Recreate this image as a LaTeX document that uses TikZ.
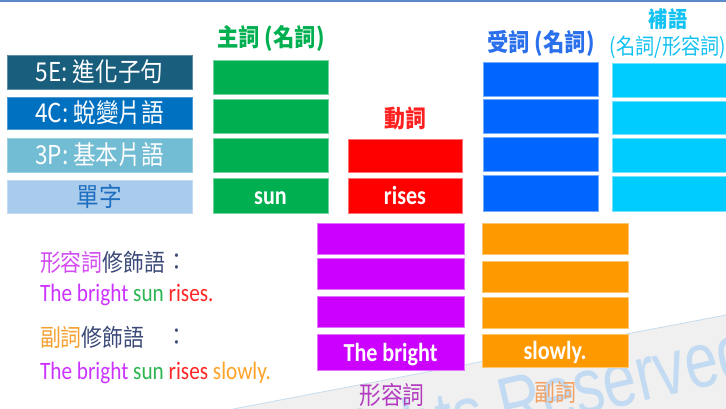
\documentclass[tikz,border=0pt]{standalone}
\usepackage{fontspec}
\usepackage{graphicx}
\newfontfamily\cjk[FakeStretch=0.87]{Noto Sans CJK TC}
\newfontfamily\lat[FakeStretch=0.85]{Carlito}
\newfontfamily\wmfont{Liberation Sans}
\newcommand\myCJK[1]{\cjk\fontsize{#1}{#1}\selectfont}
\newcommand\myLat[1]{\lat\fontsize{#1}{#1}\selectfont}
\definecolor{cFiveE}{HTML}{1A5E7E}
\definecolor{cFourC}{HTML}{0070C0}
\definecolor{cThreeP}{HTML}{72BCD4}
\definecolor{cWord}{HTML}{A9CBEC}
\definecolor{cWordTxt}{HTML}{1F6FC0}
\definecolor{cGreen}{HTML}{00B050}
\definecolor{cRed}{HTML}{FF0000}
\definecolor{cBlue}{HTML}{0066FF}
\definecolor{cCyan}{HTML}{00CCFF}
\definecolor{cPurple}{HTML}{CC00FF}
\definecolor{cOrange}{HTML}{FF9900}
\definecolor{tBlue}{HTML}{2A70EC}
\definecolor{tCyan}{HTML}{12C2F2}
\definecolor{tRed}{HTML}{FF2020}
\definecolor{tAdj}{HTML}{B43CC0}
\definecolor{tAdv}{HTML}{F4A060}
\definecolor{lAdj}{HTML}{D24CF2}
\definecolor{lDark}{HTML}{3B4A78}
\definecolor{lAdv}{HTML}{F5A030}
\definecolor{sAdj}{HTML}{CC33FF}
\definecolor{sGreen}{HTML}{2DB552}
\definecolor{sRed}{HTML}{FF2626}
\definecolor{sOrange}{HTML}{FFA326}
\definecolor{wmGrey}{HTML}{F0F0F0}
\definecolor{wmEdge}{HTML}{C5DDF0}
\definecolor{wmText}{HTML}{C2DBF2}
\definecolor{topLine}{HTML}{5B8AC8}
\tikzset{
  bx/.style={draw=#1!55!white, line width=0.5pt, fill=#1, inner sep=0,
    outer sep=0, text=white, font=\myLat{26}\bfseries,
    text height=24pt, text depth=6pt},
  lbl/.style={draw=#1!70!white, line width=0.5pt, fill=#1, inner sep=0,
    outer sep=0, minimum width=185pt, text=white, font=\myCJK{26}},
  txt/.style={inner sep=0, outer sep=0},
  wm/.style={inner sep=0, outer sep=0, rotate=13, text=wmText},
}
\begin{document}
\begin{tikzpicture}[x=1pt,y=-1pt]
\useasboundingbox (0,0) rectangle (726,409);
\clip (0,0) rectangle (726,409);
\fill[white] (0,0) rectangle (726,409);
% watermark band
\fill[wmGrey] (233,409) -- (726,315) -- (726,409) -- cycle;
\draw[wmEdge, line width=0.8pt] (233,409) -- (726,315);
\node[wm, anchor=base west] (wmB) at (505,433)
  {\wmfont\fontsize{60}{60}\selectfont\scalebox{1}[1.3]{Reserved}};
\node[wm, anchor=base east] (wmA) at (488.7,436.8)
  {\wmfont\fontsize{60}{60}\selectfont\scalebox{1}[1.3]{Rights}};
% top line
\draw[topLine, line width=2pt] (0,1) -- (726,1);
% left level labels
\node[lbl=cFiveE, minimum height=34pt] (l5) at (99.5,72) {5E: 進化子句};
\node[lbl=cFourC, minimum height=32pt] (l4) at (99.5,113) {4C: 蛻變片語};
\node[lbl=cThreeP, minimum height=34pt] (l3) at (99.5,155) {3P: 基本片語};
\node[lbl=cWord, minimum height=33pt, text=cWordTxt] (l1) at (99.5,196.5) {單字};
% subject column
\node[txt, text=cGreen, font=\myCJK{24.5}\bfseries] (tS) at (271,38) {主詞 (名詞)};
\node[bx=cGreen, minimum width=115pt, minimum height=34pt] (s4) at (270.5,77) {};
\node[bx=cGreen, minimum width=115pt, minimum height=34pt] (s3) at (270.5,116) {};
\node[bx=cGreen, minimum width=115pt, minimum height=34pt] (s2) at (270.5,155) {};
\node[bx=cGreen, minimum width=115pt, minimum height=35pt] (s1) at (270.5,195.5) {sun};
% verb column
\node[txt, text=tRed, font=\myCJK{24}\bfseries] (tV) at (405,118) {動詞};
\node[bx=cRed, minimum width=114pt, minimum height=33pt] (v2) at (405,155.5) {};
\node[bx=cRed, minimum width=114pt, minimum height=35pt] (v1) at (405,195.5) {rises};
% object column
\node[txt, text=tBlue, font=\myCJK{24.5}\bfseries] (tO) at (541,43) {受詞 (名詞)};
\node[bx=cBlue, minimum width=115pt, minimum height=34pt] (o4) at (540.5,79) {};
\node[bx=cBlue, minimum width=115pt, minimum height=34pt] (o3) at (540.5,116) {};
\node[bx=cBlue, minimum width=115pt, minimum height=34pt] (o2) at (540.5,154) {};
\node[bx=cBlue, minimum width=115pt, minimum height=36pt] (o1) at (540.5,193) {};
% complement column
\node[txt, text=tCyan, font=\myCJK{22}\bfseries] (tC1) at (668,19) {補語};
\node[txt, text=tCyan, font=\myCJK{22}] (tC2) at (668,47) {(名詞/形容詞)};
\node[bx=cCyan, minimum width=115pt, minimum height=34pt] (c4) at (669.5,80) {};
\node[bx=cCyan, minimum width=115pt, minimum height=33pt] (c3) at (669.5,117.5) {};
\node[bx=cCyan, minimum width=115pt, minimum height=34pt] (c2) at (669.5,155) {};
\node[bx=cCyan, minimum width=115pt, minimum height=35pt] (c1) at (669.5,193.5) {};
% adjective column
\node[bx=cPurple, minimum width=147pt, minimum height=31pt] (a4) at (390.5,238.5) {};
\node[bx=cPurple, minimum width=147pt, minimum height=31pt] (a3) at (390.5,273.5) {};
\node[bx=cPurple, minimum width=147pt, minimum height=31pt] (a2) at (390.5,311.5) {};
\node[bx=cPurple, minimum width=147pt, minimum height=36pt] (a1) at (390.5,352) {The bright};
\node[txt, text=tAdj, font=\myCJK{25}] (tA) at (392,395) {形容詞};
% adverb column
\node[bx=cOrange, minimum width=146pt, minimum height=31pt] (d4) at (555,238.5) {};
\node[bx=cOrange, minimum width=146pt, minimum height=31pt] (d3) at (555,276.5) {};
\node[bx=cOrange, minimum width=146pt, minimum height=31pt] (d2) at (555,312.5) {};
\node[bx=cOrange, minimum width=146pt, minimum height=33pt] (d1) at (555,350.5) {slowly.};
\node[txt, text=tAdv, font=\myCJK{24}] (tD) at (555,392) {副詞};
% left explanations
\node[txt, anchor=west, font=\myCJK{24}] (e1) at (40,262)
  {\textcolor{lAdj}{形容詞}\textcolor{lDark}{修飾語}};
\node[txt, text=lDark, font=\myCJK{24}] (e1c) at (177,262) {：};
\node[txt, anchor=west, font=\myLat{25}] (e2) at (40,295)
  {\textcolor{sAdj}{The bright} \textcolor{sGreen}{sun} \textcolor{sRed}{rises.}};
\node[txt, anchor=west, font=\myCJK{24}] (e3) at (40,337)
  {\textcolor{lAdv}{副詞}\textcolor{lDark}{修飾語}};
\node[txt, text=lDark, font=\myCJK{24}] (e3c) at (177,337) {：};
\node[txt, anchor=west, font=\myLat{25}] (e4) at (40,373)
  {\textcolor{sAdj}{The bright} \textcolor{sGreen}{sun} \textcolor{sRed}{rises} \textcolor{sOrange}{slowly.}};
\end{tikzpicture}
\end{document}
